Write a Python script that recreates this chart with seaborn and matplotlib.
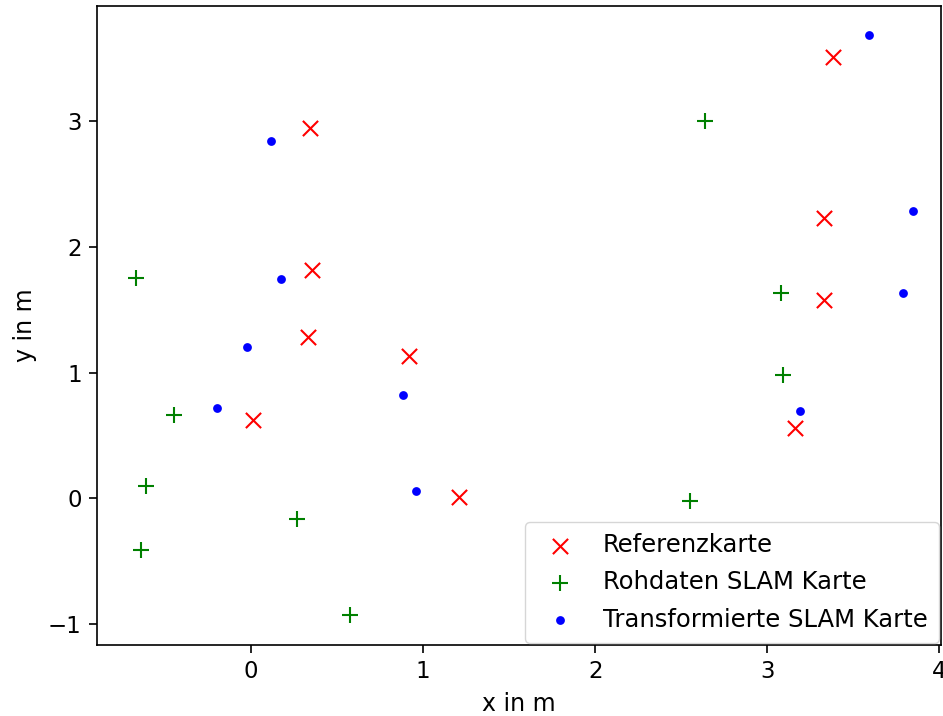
import matplotlib
matplotlib.use("Agg")
import matplotlib.pyplot as plt
import seaborn as sns

# Landmark positions (x, y in metres)
ref_x = [0.34, 0.355, 0.33, 0.92, 0.01, 1.21, 3.38, 3.33, 3.33, 3.16]
ref_y = [2.95, 1.82, 1.28, 1.13, 0.62, 0.01, 3.51, 2.23, 1.58, 0.56]

raw_x = [-0.67, -0.45, -0.61, -0.64, 0.27, 0.575, 2.64, 3.08, 3.09, 2.55]
raw_y = [1.75, 0.66, 0.10, -0.41, -0.17, -0.93, 3.00, 1.63, 0.98, -0.02]

trans_x = [0.116, 0.174, -0.023, -0.198, 0.884, 0.96, 3.59, 3.85, 3.79, 3.19]
trans_y = [2.845, 1.745, 1.20, 0.717, 0.82, 0.056, 3.69, 2.29, 1.63, 0.69]

labels = ["Referenzkarte", "Rohdaten SLAM Karte", "Transformierte SLAM Karte"]

sns.set_style("white")
plt.rcParams["font.family"] = ["DejaVu Sans"]
plt.rcParams["font.size"] = 16.5
plt.rcParams["text.color"] = "black"
plt.rcParams["axes.labelcolor"] = "black"
plt.rcParams["xtick.color"] = "black"
plt.rcParams["ytick.color"] = "black"

fig = plt.figure(figsize=(9.43, 7.16), dpi=100)
ax = fig.add_axes([97 / 943, 1 - 645 / 716, (941 - 97) / 943, (645 - 6) / 716])

sns.scatterplot(x=ref_x, y=ref_y, marker="x", color="red", s=120, linewidth=1.5,
                label=labels[0], ax=ax)
sns.scatterplot(x=raw_x, y=raw_y, marker="+", color="green", s=120, linewidth=1.5,
                label=labels[1], ax=ax)
sns.scatterplot(x=trans_x, y=trans_y, marker="o", color="blue", s=40, linewidth=0,
                label=labels[2], ax=ax)

ax.set_xlim(-0.895, 4.01)
ax.set_ylim(-1.17, 3.92)
ax.set_xticks([0, 1, 2, 3, 4])
ax.set_yticks([-1, 0, 1, 2, 3])
ax.set_xlabel("x in m", fontsize=17, labelpad=6)
ax.set_ylabel("y in m", fontsize=17, labelpad=8)
ax.tick_params(axis="both", direction="out", length=6, width=1.2, labelsize=16.5,
               pad=5, bottom=True, left=True)
for sp in ax.spines.values():
    sp.set_color("black")
    sp.set_linewidth(1.2)

ax.legend(loc="lower right", fontsize=17.5, handletextpad=0.75, borderaxespad=0.1,
          borderpad=0.45, labelspacing=0.55, edgecolor="#cccccc", framealpha=0.8)

fig.savefig("out.png", dpi=100)
